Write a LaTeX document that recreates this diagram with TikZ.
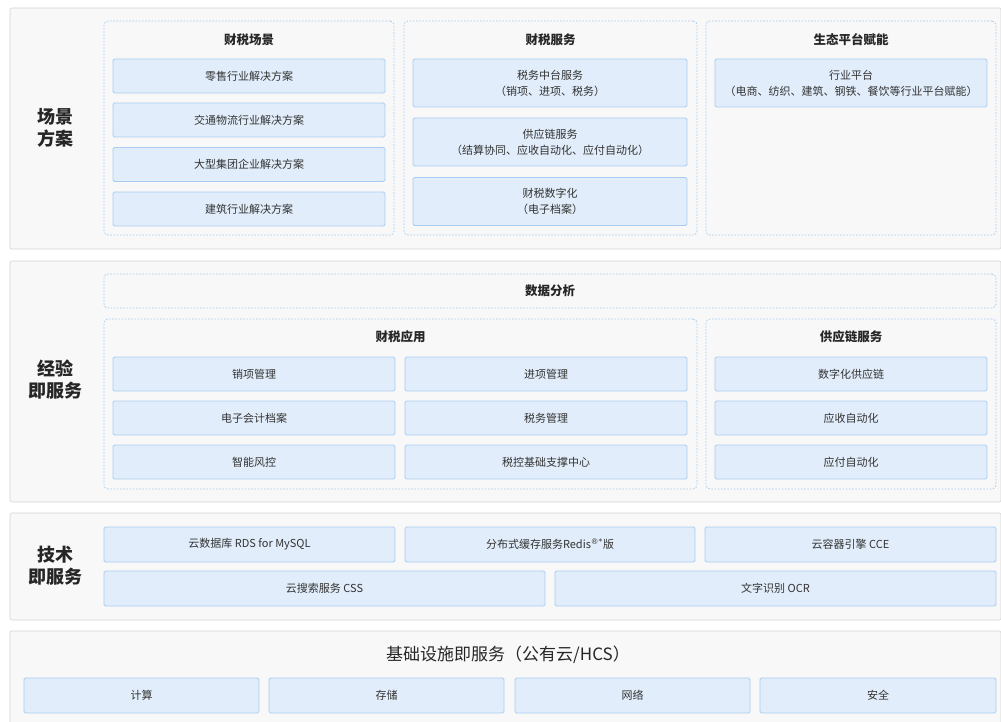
\documentclass[tikz,border=0pt]{standalone}
\usepackage{fontspec}
\setmainfont{Noto Sans CJK SC}
\newfontfamily\symfont{DejaVu Sans}
\usetikzlibrary{calc}

\definecolor{bandgray}{HTML}{F8F8F8}
\definecolor{bandline}{HTML}{D4D4D4}
\definecolor{itemfill}{HTML}{E1EDFA}
\definecolor{itemline}{HTML}{A9CDF2}
\definecolor{dotblue}{HTML}{A3CBF3}
\definecolor{txt}{HTML}{333333}

\begin{document}
\begin{tikzpicture}[x=1pt,y=-1pt,
		band/.style={draw=bandline, fill=bandgray, line width=0.6pt, rounded corners=2pt, inner sep=0pt},
		group/.style={draw=dotblue, line width=0.8pt, dash pattern=on 1.6pt off 1.6pt, rounded corners=4pt, inner sep=0pt},
		item/.style={draw=itemline, fill=itemfill, line width=0.8pt, rounded corners=1.5pt, inner sep=0pt, align=center, text=txt, font=\fontsize{11}{16}\selectfont},
		head/.style={text=black!85, font=\fontsize{12.5}{15}\selectfont\bfseries},
		side/.style={text=black!85, align=center, font=\fontsize{18}{22}\selectfont\bfseries}]
		\useasboundingbox (0,0) rectangle (1001,722);
		\fill[white] (0,0) rectangle (1001,722);
		
		\node[band, minimum width=991, minimum height=241] (b1) at (505.5,128.5) {};
		\node[band, minimum width=991, minimum height=241] (b2) at (505.5,381.5) {};
		\node[band, minimum width=991, minimum height=107] (b3) at (505.5,566.5) {};
		\node[band, minimum width=991, minimum height=93] (b4) at (505.5,677.5) {};
		
		\node[side] (s1) at (55,128) {场景\\方案};
		\node[side] (s2) at (55,380) {经验\\即服务};
		\node[side] (s3) at (55,566) {技术\\即服务};
		
		\node[group, minimum width=290, minimum height=214] (g1) at (249,128) {};
		\node[group, minimum width=293, minimum height=214] (g2) at (550.5,128) {};
		\node[group, minimum width=290, minimum height=214] (g3) at (851,128) {};
		\node[head] (h1) at (249,40) {财税场景};
		\node[head] (h2) at (550.5,40) {财税服务};
		\node[head] (h3) at (851,40) {生态平台赋能};
		
		\node[item, minimum width=272, minimum height=34] (c1) at (249,76) {零售行业解决方案};
		\node[item, minimum width=272, minimum height=34] (c2) at (249,120) {交通物流行业解决方案};
		\node[item, minimum width=272, minimum height=34] (c3) at (249,164.5) {大型集团企业解决方案};
		\node[item, minimum width=272, minimum height=34] (c4) at (249,209) {建筑行业解决方案};
		
		\node[item, minimum width=274, minimum height=48] (f1) at (550,83) {税务中台服务\\（销项、进项、税务）};
		\node[item, minimum width=274, minimum height=48] (f2) at (550,142) {供应链服务\\（结算协同、应收自动化、应付自动化）};
		\node[item, minimum width=274, minimum height=48] (f3) at (550,201.5) {财税数字化\\（电子档案）};
		
		\node[item, minimum width=272, minimum height=48] (e1) at (851,83) {行业平台\\（电商、纺织、建筑、钢铁、餐饮等行业平台赋能）};
		
		\node[group, minimum width=892, minimum height=34] (da) at (550,291) {};
		\node[head] at (da) {数据分析};
		
		\node[group, minimum width=593, minimum height=170] (g4) at (400.5,404) {};
		\node[group, minimum width=290, minimum height=170] (g5) at (851,404) {};
		\node[head] (h4) at (400.5,337) {财税应用};
		\node[head] (h5) at (851,337) {供应链服务};
		
		\node[item, minimum width=282, minimum height=34] (a1) at (254,374) {销项管理};
		\node[item, minimum width=282, minimum height=34] (a2) at (546,374) {进项管理};
		\node[item, minimum width=282, minimum height=34] (a3) at (254,418) {电子会计档案};
		\node[item, minimum width=282, minimum height=34] (a4) at (546,418) {税务管理};
		\node[item, minimum width=282, minimum height=34] (a5) at (254,462) {智能风控};
		\node[item, minimum width=282, minimum height=34] (a6) at (546,462) {税控基础支撑中心};
		
		\node[item, minimum width=272, minimum height=34] (sc1) at (851,374) {数字化供应链};
		\node[item, minimum width=272, minimum height=34] (sc2) at (851,418) {应收自动化};
		\node[item, minimum width=272, minimum height=34] (sc3) at (851,462) {应付自动化};
		
		\node[item, minimum width=291, minimum height=35] (t1) at (249.5,544.5) {云数据库 RDS for MySQL};
		\node[item, minimum width=290, minimum height=35] (t2) at (550,544.5) {分布式缓存服务Redis\textsuperscript{\symfont ®*}版};
		\node[item, minimum width=291, minimum height=35] (t3) at (850.5,544.5) {云容器引擎 CCE};
		\node[item, minimum width=441, minimum height=35] (t4) at (324.5,588.5) {云搜索服务 CSS};
		\node[item, minimum width=441, minimum height=35] (t5) at (775.5,588.5) {文字识别 OCR};
		
		\node[text=black!85, font=\fontsize{17}{20}\selectfont] (iaas) at (508,655) {基础设施即服务（公有云/HCS）};
		\node[item, minimum width=235, minimum height=35] (i1) at (141.5,695.5) {计算};
		\node[item, minimum width=235, minimum height=35] (i2) at (386.5,695.5) {存储};
		\node[item, minimum width=235, minimum height=35] (i3) at (632.5,695.5) {网络};
		\node[item, minimum width=236, minimum height=35] (i4) at (878,695.5) {安全};
\end{tikzpicture}
\end{document}
